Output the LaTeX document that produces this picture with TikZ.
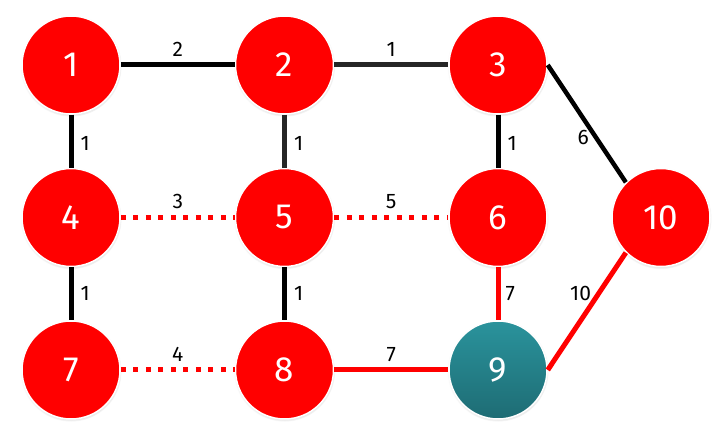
\documentclass[tikz,border=0pt]{standalone}
\usepackage{fontspec}
\setmainfont{Fira Sans}
\usetikzlibrary{positioning, shadows}
\definecolor{vred}{HTML}{FF0000}
\definecolor{tealtop}{HTML}{2A939C}
\definecolor{tealbot}{HTML}{1E6C74}
\tikzstyle{vertex} = [circle, fill=vred, draw=white, line width=1.5pt, minimum size=98pt, inner sep=0pt, text=white, font=\fontsize{35}{35}\selectfont, circular drop shadow={shadow xshift=0pt, shadow yshift=-1pt, shadow scale=1.035, opacity=0.55}]
\tikzstyle{goal} = [vertex, top color=tealtop, bottom color=tealbot]
\tikzstyle{tree} = [line width=5pt, black]
\tikzstyle{treegray} = [line width=5pt, black!85]
\tikzstyle{cut} = [line width=5pt, vred, dash pattern=on 5pt off 7.5pt]
\tikzstyle{route} = [line width=5pt, vred]
\tikzstyle{weight} = [font=\fontsize{21}{21}\selectfont, inner sep=3pt, text=black]

\begin{document}
\begin{tikzpicture}[node distance=152.5pt and 213.5pt, on grid]

	\useasboundingbox (0,0) rectangle (720pt,435pt);

	% Top row
	\node (n1) [vertex] at (71pt,370pt) {1};
	\node (n2) [vertex, right=of n1] {2};
	\node (n3) [vertex, right=of n2] {3};

	% Middle row
	\node (n4) [vertex, below=of n1] {4};
	\node (n5) [vertex, below=of n2] {5};
	\node (n6) [vertex, below=of n3] {6};
	\node (n10) [vertex, right=163pt of n6] {10};

	% Bottom row
	\node (n7) [vertex, below=of n4] {7};
	\node (n8) [vertex, below=of n5] {8};
	\node (n9) [goal, below=of n6] {9};

	% Tree edges
	\draw[tree] (n1) -- node[weight, above=3pt] {2} (n2);
	\draw[treegray] (n2) -- node[weight, above=3pt] {1} (n3);
	\draw[tree] (n1) -- node[weight, right=4pt, pos=0.55] {1} (n4);
	\draw[treegray] (n2) -- node[weight, right=4pt, pos=0.55] {1} (n5);
	\draw[tree] (n3) -- node[weight, right=4pt, pos=0.55] {1} (n6);
	\draw[tree] (n4) -- node[weight, right=4pt, pos=0.5] {1} (n7);
	\draw[tree] (n5) -- node[weight, right=4pt, pos=0.5] {1} (n8);
	\draw[tree, line width=4.5pt] (n3.east) -- node[weight, left=2pt, pos=0.62] {6} (n10.north west);

	% Dashed edges
	\draw[cut] (n4) -- node[weight, above=3pt] {3} (n5);
	\draw[cut] (n5) -- node[weight, above=3pt] {5} (n6);
	\draw[cut] (n7) -- node[weight, above=3pt] {4} (n8);

	% Red path
	\draw[route] (n8) -- node[weight, above=3pt] {7} (n9);
	\draw[route] (n6) -- node[weight, right=2pt, pos=0.5] {7} (n9);
	\draw[route] (n9.east) -- node[weight, left=2pt, pos=0.65] {10} (n10.south west);

\end{tikzpicture}
\end{document}
